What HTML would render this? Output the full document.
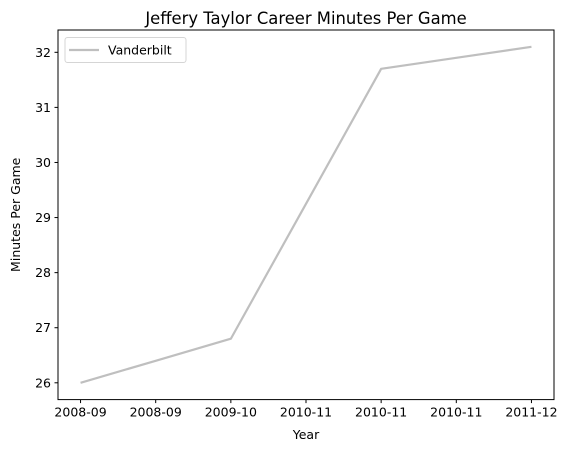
<!DOCTYPE html>
<html><head><meta charset="utf-8"><style>
body{margin:0;background:#fff;}
svg text{font-family:"DejaVu Sans","Liberation Sans",sans-serif;fill:#000;}
</style></head><body>
<svg id="chart" width="569" height="453" xmlns="http://www.w3.org/2000/svg">
<rect width="569" height="453" fill="#fff"/>
<text x="306" y="24" font-size="16.4" text-anchor="middle">Jeffery Taylor Career Minutes Per Game</text>
<g id="axes"></g>
</svg>
<script>
const categories=["2008-09","2008-09","2009-10","2010-11","2010-11","2010-11","2011-12"];
const values=[26.0,26.4,26.8,29.25,31.7,31.9,32.1];
const yTicks=[26,27,28,29,30,31,32];
const L=58,R=554,T=30,B=399.6;
const ymin=Math.min(...values),ymax=Math.max(...values),yp=(ymax-ymin)*0.05;
const y0=ymin-yp,y1=ymax+yp;
const n=categories.length,x0=-0.3,x1=n-1+0.3;
const xs=i=>L+(i-x0)/(x1-x0)*(R-L);
const ys=v=>B-(v-y0)/(y1-y0)*(B-T);
const NS="http://www.w3.org/2000/svg";
const g=document.getElementById('axes');
function mk(t,a){const e=document.createElementNS(NS,t);for(const k in a)e.setAttribute(k,a[k]);g.appendChild(e);return e;}
const pts=values.map((v,i)=>xs(i)+','+ys(v)).join(' ');
const line=mk('polyline',{points:pts,fill:'none',stroke:'#bfbfbf','stroke-width':2.2,'stroke-linejoin':'round'});


const fr=mk('rect',{x:L,y:T,width:R-L,height:B-T,fill:'none',stroke:'#000','stroke-width':1});


yTicks.forEach(t=>{
 const y=ys(t);
 mk('line',{x1:L-3.5,x2:L,y1:y,y2:y,stroke:'#000'});
 const tx=mk('text',{x:L-7,y:y+4.5,'font-size':12.5,'text-anchor':'end'});tx.textContent=t;
 
 
});
categories.forEach((c,i)=>{
 const x=xs(i);
 mk('line',{x1:x,x2:x,y1:B,y2:B+3.5,stroke:'#000'});
 const tx=mk('text',{x:x,y:B+17,'font-size':12.5,'text-anchor':'middle'});tx.textContent=c;
 
 
});
const xt=mk('text',{x:(L+R)/2,y:439,'font-size':12.5,'text-anchor':'middle'});xt.textContent='Year';


const yt=mk('text',{x:20,y:(T+B)/2,'font-size':12.5,'text-anchor':'middle',transform:`rotate(-90 20 ${(T+B)/2})`});yt.textContent='Minutes Per Game';


const lg=mk('rect',{x:65,y:37.5,width:121,height:25,rx:2.5,fill:'#fff',stroke:'#d5d5d5'});


mk('line',{x1:69,x2:99,y1:50,y2:50,stroke:'#bfbfbf','stroke-width':2.2});
const lt=mk('text',{x:108,y:54.5,'font-size':12.5});lt.textContent='Vanderbilt';


</script>
</body></html>
